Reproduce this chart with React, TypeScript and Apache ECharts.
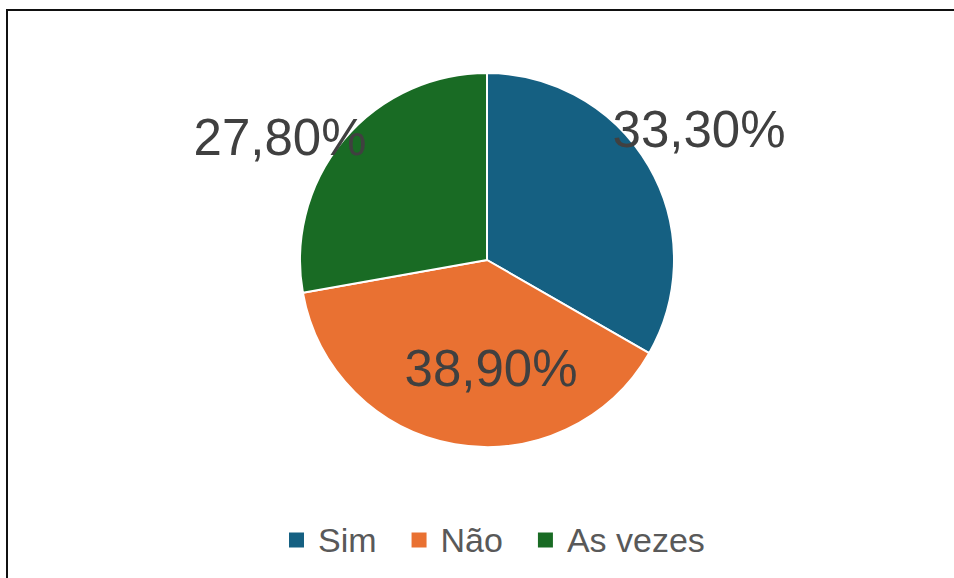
import React, { useEffect, useRef } from "react";
import * as echarts from "echarts";

const categories = ["Sim", "Não", "As vezes"];
const values = [33.3, 38.9, 27.8];
const labelTexts = ["33,30%", "38,90%", "27,80%"];
const colors = ["#156082", "#E97132", "#196B24"];
// label centres (px) relative to pie centre, as placed in the reference
const labelOffsets = [
  [212, -131],
  [4, 108],
  [-207, -123],
];

const CX = 487;
const CY = 260;
const R = 187;

export default function App() {
  const ref = useRef<HTMLDivElement>(null);
  useEffect(() => {
    if (!ref.current) return;
    const chart = echarts.init(ref.current, null, { renderer: "svg" });
    chart.setOption({
      animation: false,
      backgroundColor: "#ffffff",
      textStyle: { fontFamily: "Liberation Sans, Arial, sans-serif" },
      graphic: [
        {
          type: "rect",
          shape: { x: 7, y: 10, width: 1000, height: 700 },
          style: { fill: "none", stroke: "#111111", lineWidth: 2 },
          silent: true,
        },
      ],
      legend: {
        data: categories,
        left: 282,
        top: 515,
        icon: "rect",
        itemWidth: 17,
        itemHeight: 17,
        itemGap: 33,
        textStyle: {
          color: "#595959",
          fontSize: 34,
          lineHeight: 40,
          padding: [0, 0, 0, 8],
          fontFamily: "Liberation Sans, Arial, sans-serif",
        },
      },
      series: [
        {
          type: "pie",
          center: [CX, CY],
          radius: R,
          startAngle: 90,
          clockwise: true,
          color: colors,
          itemStyle: { borderColor: "#ffffff", borderWidth: 2 },
          label: {
            show: true,
            position: "inside",
            formatter: (p: any) => labelTexts[p.dataIndex],
            color: "#404040",
            fontSize: 51,
            fontFamily: "Liberation Sans, Arial, sans-serif",
          },
          labelLine: { show: false },
          labelLayout: (p: any) => ({
            x: CX + labelOffsets[p.dataIndex][0],
            y: CY + labelOffsets[p.dataIndex][1],
            align: "center",
            verticalAlign: "middle",
          }),
          emphasis: { disabled: true },
          data: categories.map((name, i) => ({ name, value: values[i] })),
        },
      ],
    });
    return () => chart.dispose();
  }, []);
  return (
    <div
      ref={ref}
      style={{ position: "fixed", left: 0, top: 0, width: 954, height: 578 }}
    />
  );
}
